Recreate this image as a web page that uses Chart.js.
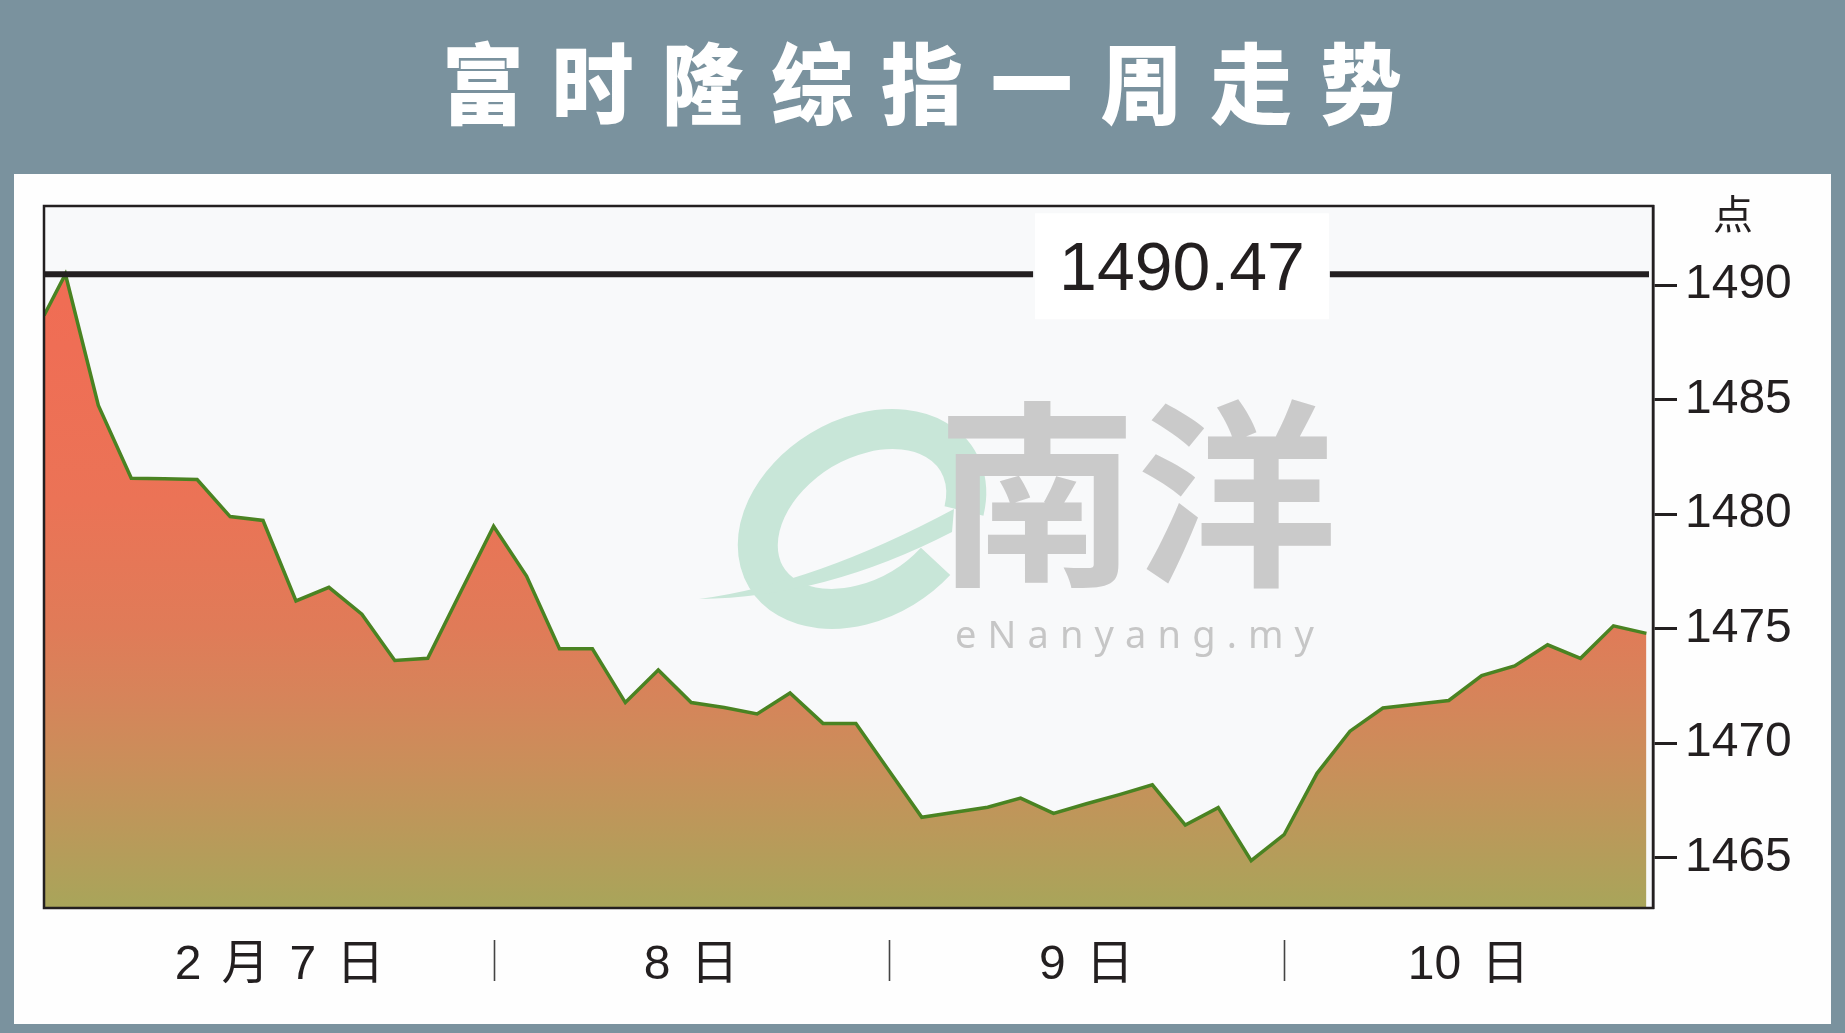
<!DOCTYPE html>
<html lang="zh-CN">
<head>
<meta charset="utf-8">
<title>富时隆综指一周走势</title>
<script src="https://cdn.jsdelivr.net/npm/chart.js@4.4.1/dist/chart.umd.min.js"></script>
<style>
  html, body { margin: 0; padding: 0; }
  body { width: 1845px; height: 1033px; overflow: hidden; position: relative; background: #7a929e; }
  #title { position: absolute; left: 0; top: 0; width: 1845px; height: 174px; display: flex; align-items: center; justify-content: center; }
  #title span {
    display: inline-block; position: relative; top: -8px; color: #fff;
    font-family: "Noto Sans CJK SC", sans-serif; font-weight: 900;
    font-size: 88px; line-height: 1; letter-spacing: 30px; padding-left: 30px; transform: scaleX(0.93);
  }
  #panel { position: absolute; left: 14px; top: 174px; width: 1817px; height: 850px; background: #fefefe; }
  #chart { position: absolute; left: 0; top: 0; }
</style>
</head>
<body>
<div id="title"><span>富时隆综指一周走势</span></div>
<div id="panel"></div>
<canvas id="chart" width="1845" height="1033"></canvas>
<script>
// 交易时段编号（约半小时一格），首点落在图框左缘
const slots = [
  -0.65, 0, 1, 2, 3, 4, 5, 6, 7, 8, 9, 10, 11, 12, 13, 14, 15, 16, 17, 18, 19, 20, 21, 22, 23, 24,
  25, 26, 27, 28, 29, 30, 31, 32, 33, 34, 35, 36, 37, 38, 39, 40, 41, 42, 43, 44, 45, 46, 47, 48
]
// 富时隆综指点数
const indexValues = [
  1488.67, 1490.47, 1484.74, 1481.56, 1481.54, 1481.51, 1479.89, 1479.72, 1476.21, 1476.80,
  1475.63, 1473.61, 1473.70, 1476.60, 1479.47, 1477.29, 1474.12, 1474.12, 1471.77, 1473.19,
  1471.77, 1471.55, 1471.27, 1472.19, 1470.86, 1470.86, 1468.80, 1466.76, 1466.98, 1467.20,
  1467.60, 1466.93, 1467.35, 1467.75, 1468.18, 1466.42, 1467.18, 1464.87, 1466.00, 1468.68,
  1470.52, 1471.53, 1471.70, 1471.86, 1472.95, 1473.37, 1474.29, 1473.70, 1475.12, 1474.79
]
const yTicks = [1465, 1470, 1475, 1480, 1485, 1490]
const dayLabels = ['2 月 7 日', '8 日', '9 日', '10 日']
const daySplits = [13, 25, 37]           // 日与日之间的分隔（时段编号）
const firstOpenSlot = 0                  // 2月7日开盘时段
const slotRange = [-0.65, 48.2]
const valueRange = [1462.8, 1493.45]
const highValue = 1490.47                // 一周最高点
const highLabelSlot = 33.9               // 最高点标签所在时段

const INK = '#231f20'
const NUM_FONT = '"Liberation Sans", Arial, "Noto Sans CJK SC", sans-serif'
const CJK_FONT = '"Noto Sans CJK SC", "Liberation Sans", sans-serif'

/**
 * 面积渐变：上珊瑚红，下橄榄黄
 */
function areaGradient(context) {
  const chart = context.chart
  const a = chart.chartArea
  if (!a) return null
  const g = chart.ctx.createLinearGradient(0, a.top, 0, a.bottom)
  g.addColorStop(0, '#f26b52')
  g.addColorStop(0.2, '#ef6e55')
  g.addColorStop(0.42, '#eb7356')
  g.addColorStop(0.6, '#e07b58')
  g.addColorStop(0.7, '#d6845a')
  g.addColorStop(0.8, '#c98f5a')
  g.addColorStop(0.9, '#b99a5a')
  g.addColorStop(1, '#a8a55a')
  return g
}

/**
 * 水印（e南洋 eNanyang.my）
 */
function drawWatermark(ctx, a) {
  const ox = a.left
  const oy = a.top
  const mint = '#c8e6d8'

  // 绿色 e 的外环
  ctx.save()
  ctx.translate(ox + 818, oy + 313)
  ctx.rotate(-0.55)
  ctx.strokeStyle = mint
  ctx.lineWidth = 40
  ctx.beginPath()
  ctx.ellipse(0, 0, 112, 80, 0, 1.2, 0.62 + Math.PI * 2)
  ctx.stroke()
  ctx.restore()

  // e 的横笔与尾巴
  ctx.save()
  ctx.fillStyle = mint
  ctx.beginPath()
  ctx.moveTo(ox + 655, oy + 393)
  ctx.quadraticCurveTo(ox + 770, oy + 378, ox + 910, oy + 303)
  ctx.lineTo(ox + 908, oy + 326)
  ctx.quadraticCurveTo(ox + 780, oy + 392, ox + 655, oy + 393)
  ctx.fill()
  ctx.restore()

  // 南洋
  ctx.save()
  ctx.fillStyle = '#cacaca'
  ctx.font = '700 200px ' + CJK_FONT
  ctx.textBaseline = 'middle'
  ctx.textAlign = 'left'
  ctx.fillText('南洋', ox + 893, oy + 288)

  // eNanyang.my，字距拉开
  const site = 'eNanyang.my'
  ctx.font = '400 38px "Noto Sans", "Open Sans", sans-serif'
  ctx.fillStyle = '#c6c6c6'
  ctx.textBaseline = 'alphabetic'
  const natural = ctx.measureText(site).width
  const gap = (359 - natural) / (site.length - 1)
  let x = ox + 911
  for (const ch of site) {
    ctx.fillText(ch, x, oy + 442)
    x += ctx.measureText(ch).width + gap
  }
  ctx.restore()
}

const framePlugin = {
  id: 'frame',
  beforeDatasetsDraw(chart) {
    const { ctx, chartArea: a } = chart
    ctx.save()
    ctx.fillStyle = '#f8f9fa'
    ctx.fillRect(a.left, a.top, a.width, a.height)
    ctx.restore()
    drawWatermark(ctx, a)
  },
  afterDatasetsDraw(chart) {
    const { ctx, chartArea: a } = chart
    const xs = chart.scales.x
    const ys = chart.scales.y

    ctx.save()
    // 最高点横线与标签
    const yHigh = ys.getPixelForValue(highValue)
    const label = highValue.toFixed(2)
    ctx.font = '68px ' + NUM_FONT
    const tw = ctx.measureText(label).width
    const cx = xs.getPixelForValue(highLabelSlot)
    const boxL = cx - tw / 2 - 24
    const boxR = cx + tw / 2 + 24
    ctx.fillStyle = '#ffffff'
    ctx.fillRect(boxL, yHigh - 61, boxR - boxL, 106)
    ctx.strokeStyle = INK
    ctx.lineWidth = 6
    ctx.beginPath()
    ctx.moveTo(a.left, yHigh)
    ctx.lineTo(boxL - 2, yHigh)
    ctx.moveTo(boxR + 1, yHigh)
    ctx.lineTo(a.right - 4, yHigh)
    ctx.stroke()
    ctx.fillStyle = INK
    ctx.textAlign = 'center'
    ctx.textBaseline = 'alphabetic'
    ctx.fillText(label, cx, yHigh + 16)

    // 图框
    ctx.lineWidth = 2.5
    ctx.strokeRect(a.left, a.top, a.width, a.height)

    // 日期分隔竖线
    ctx.strokeStyle = '#444'
    ctx.lineWidth = 1.6
    daySplits.forEach(s => {
      const x = Math.round(xs.getPixelForValue(s)) + 0.5
      ctx.beginPath()
      ctx.moveTo(x, a.bottom + 32)
      ctx.lineTo(x, a.bottom + 73)
      ctx.stroke()
    })

    // 单位“点”
    ctx.fillStyle = INK
    ctx.font = '40px ' + CJK_FONT
    ctx.textAlign = 'center'
    ctx.textBaseline = 'middle'
    ctx.fillText('点', ys.left + 80, a.top + 8)
    ctx.restore()
  }
}

const canvas = document.getElementById('chart')
new Chart(canvas.getContext('2d'), {
  type: 'line',
  data: {
    datasets: [{
      label: '富时隆综指',
      data: slots.map((s, i) => ({ x: s, y: indexValues[i] })),
      borderColor: '#4a8322',
      borderWidth: 3.5,
      backgroundColor: areaGradient,
      fill: 'start',
      tension: 0,
      pointRadius: 0
    }]
  },
  options: {
    responsive: false,
    devicePixelRatio: 1,
    animation: false,
    layout: { padding: { left: 44, top: 206, right: 42, bottom: 25 } },
    plugins: {
      legend: { display: false },
      tooltip: { enabled: false }
    },
    scales: {
      x: {
        type: 'linear',
        min: slotRange[0],
        max: slotRange[1],
        grid: { display: false },
        border: { display: false },
        afterBuildTicks(axis) {
          // 每日标签居中于当日时段
          const bounds = [firstOpenSlot, ...daySplits, slotRange[1]]
          axis.ticks = dayLabels.map((_, i) => ({ value: (bounds[i] + bounds[i + 1]) / 2 }))
        },
        afterFit(axis) { axis.height = 100 },
        ticks: {
          autoSkip: false,
          maxRotation: 0,
          padding: 21,
          color: INK,
          font: { family: NUM_FONT, size: 48 },
          callback: (value, index) => dayLabels[index].replace(/ /g, '\u2004\u200a')
        }
      },
      y: {
        position: 'right',
        min: valueRange[0],
        max: valueRange[1],
        afterBuildTicks(axis) {
          axis.ticks = yTicks.map(v => ({ value: v }))
        },
        afterFit(axis) { axis.width = 150 },
        grid: {
          drawOnChartArea: false,
          drawTicks: true,
          tickLength: 24,
          tickWidth: 3,
          tickColor: INK
        },
        border: { display: true, color: INK, width: 2.5 },
        ticks: {
          padding: 8,
          color: INK,
          font: { family: NUM_FONT, size: 48 },
          callback: v => String(v)
        }
      }
    }
  },
  plugins: [framePlugin]
})
</script>
</body>
</html>
